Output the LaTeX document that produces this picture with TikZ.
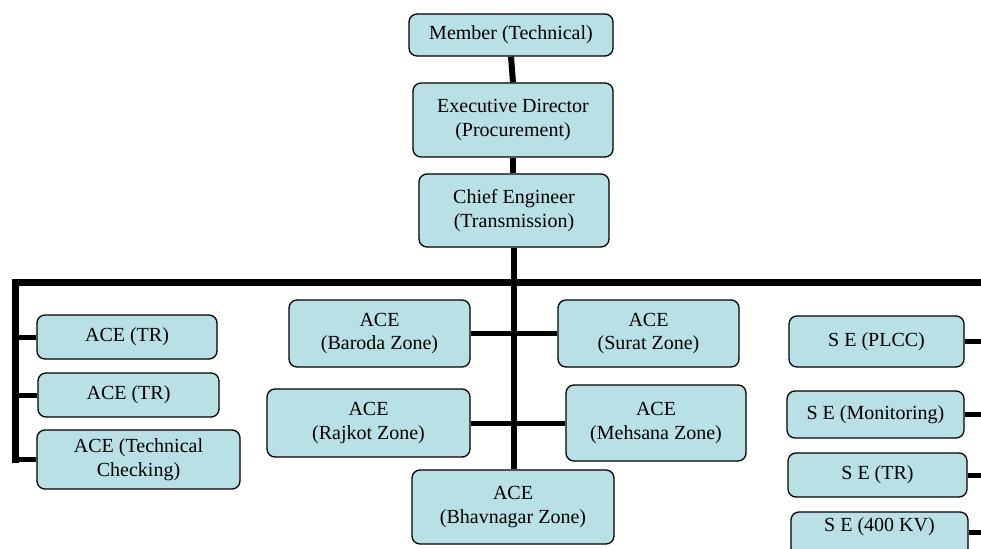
\documentclass[tikz,border=0pt]{standalone}
\usepackage{fontspec}
\setmainfont{Liberation Serif}
\definecolor{boxfill}{RGB}{185,224,228}
\begin{document}
\begin{tikzpicture}[x=1pt,y=-1pt,
  box/.style={draw=black, line width=1.3pt, fill=boxfill, rounded corners=8pt,
    align=center, font=\fontsize{20}{23.5}\selectfont, inner sep=0pt},
  trunk/.style={line width=6pt},
  bus/.style={line width=7pt},
  branch/.style={line width=5pt}]
\useasboundingbox (0,0) rectangle (981,548);
\coordinate (busL) at (15,282);
\coordinate (busR) at (990,282);
\coordinate (lvB) at (15,463);
\coordinate (rE) at (990,0);
% boxes
\node[box, minimum width=204pt, minimum height=42pt] (mt) at (511,35) {Member (Technical)};
\node[box, minimum width=200pt, minimum height=74pt] (ed) at (513,120) {Executive Director\\(Procurement)};
\node[box, minimum width=190pt, minimum height=73pt] (ce) at (514,210.5) {Chief Engineer\\(Transmission)};
\node[box, minimum width=180pt, minimum height=44pt] (tr1) at (127,337) {ACE (TR)};
\node[box, minimum width=181pt, minimum height=44pt] (tr2) at (128.5,395) {ACE (TR)};
\node[box, minimum width=203pt, minimum height=59pt] (tc) at (138.5,459.5) {ACE (Technical\\Checking)};
\node[box, minimum width=181pt, minimum height=67pt] (ba) at (379.5,333.5) {ACE\\(Baroda Zone)};
\node[box, minimum width=181pt, minimum height=67pt] (su) at (648.5,333.5) {ACE\\(Surat Zone)};
\node[box, minimum width=203pt, minimum height=68pt] (rj) at (368.5,423) {ACE\\(Rajkot Zone)};
\node[box, minimum width=180pt, minimum height=76pt] (me) at (656,423) {ACE\\(Mehsana Zone)};
\node[box, minimum width=202pt, minimum height=74pt] (bh) at (513,507) {ACE\\(Bhavnagar Zone)};
\node[box, minimum width=175pt, minimum height=51pt] (se1) at (876.5,341.5) {S E (PLCC)};
\node[box, minimum width=177pt, minimum height=47pt] (se2) at (875.5,414.5) {S E (Monitoring)};
\node[box, minimum width=179pt, minimum height=44pt] (se3) at (877.5,475) {S E (TR)};
\node[box, minimum width=177pt, minimum height=44pt] (se4) at (879.5,534) {\raisebox{18pt}{S E (400 KV)}};
% connectors
\draw[trunk] (mt.south) -- (ed.north);
\draw[trunk] (ed.south) -- (ed.south |- ce.north);
\draw[trunk] (ce.south) -- (ce.south |- bh.north);
\draw[bus] (lvB) -- (busL) -- (busR);
\draw[branch] (tr1.west) -- (tr1.west -| busL);
\draw[branch] (tr2.west) -- (tr2.west -| busL);
\draw[branch] (tc.west) -- (tc.west -| busL);
\draw[branch] (ba.east) -- (su.west);
\draw[branch] (rj.east) -- (me.west);
\draw[branch] (se1.east) -- (se1.east -| rE);
\draw[branch] (se2.east) -- (se2.east -| rE);
\draw[branch] (se3.east) -- (se3.east -| rE);
\draw[branch] ([yshift=2pt]se4.east) -- ([yshift=2pt]se4.east -| rE);
\end{tikzpicture}
\end{document}
